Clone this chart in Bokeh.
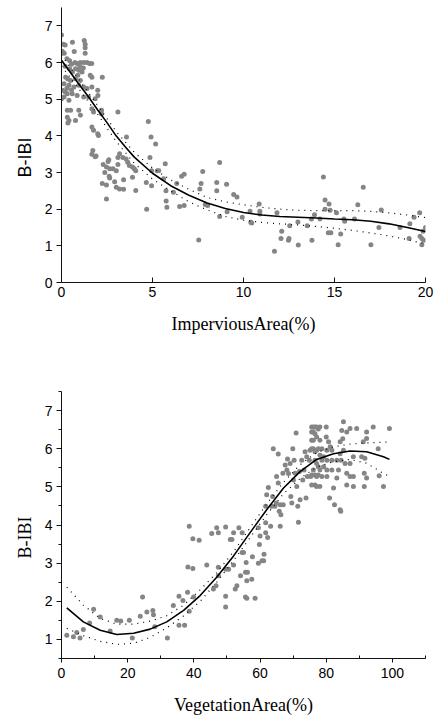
from bokeh.plotting import figure
from bokeh.layouts import column
from bokeh.models import Range1d, FixedTicker, Title
from bokeh.embed import file_html
from bokeh.resources import INLINE

# ---------------- data: top panel (Impervious area) ----------------
imp_x = [0.0, 0.1, 0.2, 0.05, 0.15, 0.6, 0.7, 1.25, 1.3, 1.3, 1.3,
         0.74, 0.86, 1.04, 1.22, 1.4, 1.54, 1.66, 0.3, 0.45, 0.55, 0.2,
         0.45, 0.6, 0.77, 0.95, 1.13, 1.0, 1.2,
         0.23, 0.5, 0.77, 1.04, 1.58, 1.67, 0.35, 0.9,
         0.14, 0.41, 0.68, 0.95, 1.22, 1.4, 1.67, 1.99, 0.3, 0.55,
         0.05, 0.32, 0.59, 0.86, 1.22, 1.49, 1.85, 2.0, 0.2,
         0.0, 0.14, 0.41,
         0.32, 0.5, 0.95, 1.67, 1.76, 2.2, 2.2,
         0.32, 0.41, 0.77, 1.04, 0.35,
         1.67, 1.76, 1.99, 2.03, 2.24, 3.1,
         1.72, 1.67, 1.9, 1.85,
         2.24, 2.47, 2.47,
         2.29, 2.47, 2.56, 2.65, 2.38, 2.6, 2.62, 2.65,
         2.83, 3.01, 3.1, 2.92, 3.01, 3.19,
         3.1, 3.19, 3.37, 3.55, 3.64, 3.73, 3.9, 4.0, 4.08,
         3.57, 3.41, 3.41, 3.9, 4.08,
         4.77, 4.92, 5.17, 4.86, 4.95, 5.26, 5.35, 4.66, 4.95, 4.68,
         5.7, 5.61, 5.74, 5.75, 5.79, 6.15, 6.33, 6.6, 6.74, 6.49, 6.74,
         7.54, 7.6, 7.67, 7.76, 7.9, 8.03,
         8.53, 8.53, 8.69, 8.69, 9.07, 9.1, 9.46, 9.64, 9.93,
         10.36, 10.4, 10.45, 10.86, 10.9, 10.9,
         11.7, 11.84, 12.1, 12.06, 12.47, 12.5, 12.54, 12.99, 13.01, 13.5,
         13.73, 13.76, 13.9, 14.2,
         14.39, 14.48, 14.48, 14.66, 14.8, 14.7, 14.76, 15.11, 15.2, 15.34,
         15.52, 15.56,
         16.1, 16.28, 16.58, 17.0, 17.44, 17.57,
         18.6, 19.14, 19.1, 19.37, 19.68, 19.7, 19.8, 19.87, 19.9, 19.8, 20.0]
imp_y = [6.75, 6.5, 6.48, 6.3, 6.25, 6.55, 6.3, 6.6, 6.5, 6.4, 6.25,
         6.0, 5.97, 6.0, 6.0, 6.0, 5.97, 5.97, 6.1, 6.05, 5.95, 5.9,
         5.83, 5.74, 5.83, 5.79, 5.74, 5.9, 5.85,
         5.6, 5.51, 5.56, 5.51, 5.65, 5.6, 5.55, 5.65,
         5.42, 5.38, 5.33, 5.38, 5.33, 5.29, 5.33, 5.24, 5.3, 5.25,
         5.24, 5.15, 5.15, 5.1, 5.06, 5.06, 5.01, 5.1, 5.2,
         5.01, 5.06, 4.97,
         4.7, 4.7, 4.7, 4.74, 4.65, 4.7, 4.6,
         4.51, 4.42, 4.42, 4.56, 4.35,
         4.24, 4.15, 4.06, 4.01, 5.6, 4.65,
         3.6, 3.5, 3.45, 3.43,
         2.7, 2.66, 2.28,
         3.22, 3.15, 3.3, 3.1, 3.0, 3.35, 2.9, 2.85,
         3.1, 3.05, 3.22, 2.75, 2.6, 2.55,
         3.41, 3.51, 3.41, 3.37, 3.28, 3.19, 3.15, 3.1, 3.05,
         3.97, 2.8, 2.54, 2.87, 2.51,
         4.39, 3.97, 3.78, 3.41, 3.05, 3.05, 3.05, 2.73, 2.64, 2.0,
         3.24, 2.83, 2.5, 2.22, 2.05, 2.46, 2.7, 2.9, 2.95, 2.07, 2.1,
         1.16, 2.55, 2.7, 3.03, 2.13, 2.1,
         2.73, 2.5, 3.27, 1.8, 2.68, 1.93, 2.4, 2.33, 1.78,
         1.94, 1.64, 1.62, 2.14, 1.94, 1.87,
         0.85, 1.9, 1.4, 1.2, 1.15, 1.2, 1.55, 1.65, 1.02, 1.55,
         1.73, 1.15, 1.85, 1.73,
         2.88, 2.25, 2.0, 1.36, 1.36, 2.14, 1.97, 1.9, 1.03, 1.32,
         1.73, 1.67,
         1.73, 2.12, 2.6, 1.03, 1.5, 1.98,
         1.5, 1.6, 1.2, 1.78, 1.9, 1.26, 1.2, 1.4, 1.15, 1.03, 1.5]

imp_fit_x = [0, 0.5, 1, 1.5, 2, 2.5, 3, 3.5, 4, 5, 6, 7, 8, 9, 10, 11, 12,
             13, 14, 15, 16, 17, 18, 19, 20]
imp_fit_y = [6.06, 5.72, 5.38, 5.05, 4.7, 4.36, 4.0, 3.7, 3.42, 2.98, 2.64,
             2.38, 2.17, 2.02, 1.91, 1.84, 1.8, 1.78, 1.76, 1.73, 1.71, 1.67,
             1.6, 1.5, 1.39]
imp_band_x = [0, 1, 2, 3, 4, 5, 6, 7, 8, 9, 10, 11, 12, 13, 14, 15, 16, 17, 18, 19, 20]
imp_up_y = [6.2, 5.5, 4.82, 4.12, 3.55, 3.12, 2.8, 2.54, 2.32, 2.2, 2.12,
            2.05, 2.0, 1.97, 1.96, 1.96, 1.96, 1.94, 1.9, 1.84, 1.77]
imp_lo_y = [5.9, 5.25, 4.58, 3.85, 3.25, 2.82, 2.5, 2.2, 1.98, 1.8, 1.7,
            1.64, 1.6, 1.57, 1.53, 1.48, 1.42, 1.35, 1.27, 1.17, 1.05]

imp_xticks = [0, 5, 10, 15, 20]
imp_yticks = [0, 1, 2, 3, 4, 5, 6, 7]

# ---------------- data: bottom panel (Vegetation area) ----------------
veg_x = [1.6, 3.6, 4.6, 5.6, 6.6, 8.5, 9.7, 11.7, 14.7, 16.7, 17.9, 20.5,
         21.4, 23.8, 24.5, 25.8, 27.6, 27.8, 28.2, 32.0, 33.8, 35.5, 35.5,
         37.2, 36.7, 38.1, 38.2, 38.6, 38.6, 39.7, 39.7, 39.9, 41.6, 43.9,
         45.4, 45.9, 46.7, 46.9, 47.4, 47.4, 47.4, 49.6, 49.6, 49.6, 49.6,
         50.5, 51.0, 51.5, 52.0, 52.0, 52.5, 53.0, 53.6, 54.1, 54.6, 54.6,
         55.0, 55.6, 55.6, 55.8, 56.0, 56.0, 56.2, 57.5, 57.7, 58.5, 59.5,
         59.5, 59.8, 60.0, 60.6, 61.1, 61.2, 61.7, 61.7, 61.7, 62.0, 62.3,
         62.5, 63.2, 63.5, 63.8, 64.0, 64.5, 64.9, 65.0, 65.5, 65.5, 65.8,
         66.1, 66.1, 66.3, 66.9, 67.0, 67.6, 68.1, 68.3, 68.6, 69.1, 69.3,
         69.6, 69.9, 70.1, 70.3, 70.6, 70.9, 71.1, 71.4, 71.6, 71.9, 72.1,
         72.6, 72.9, 73.3, 73.6, 73.9, 74.1, 74.3, 74.9, 75.1, 75.3,
         75.6, 75.6, 75.6, 75.6, 75.6, 75.6,
         76.1, 76.1, 76.1, 76.1, 76.1,
         76.6, 76.6, 76.6, 76.6, 76.6, 76.6,
         77.1, 77.1, 77.1, 77.1, 77.1, 77.1,
         77.6, 77.6, 77.6, 77.6,
         78.1, 78.1, 78.1, 78.1, 78.1,
         78.7, 78.7, 78.7, 79.2, 79.2, 80.0, 80.0,
         80.2, 80.2, 80.2, 80.2, 80.7, 81.0, 81.2, 81.7, 81.7, 81.7,
         82.2, 82.5, 83.2, 83.7, 83.2, 84.2, 84.4, 84.2, 84.2, 84.5,
         84.7, 85.2, 85.0, 85.2, 85.7, 86.2, 86.2, 86.2, 87.2, 87.2,
         87.2, 88.2, 88.2, 88.2, 89.2, 90.7, 91.2, 91.5, 91.5, 91.7,
         92.2, 92.2, 92.2, 94.2, 95.7, 96.0, 97.3, 99.1]
veg_y = [1.11, 1.07, 1.18, 1.04, 1.26, 1.43, 1.79, 1.59, 1.22, 1.5, 1.48, 1.5,
         1.04, 1.61, 2.11, 1.72, 1.76, 1.65, 1.33, 1.04, 1.89, 2.13, 1.37,
         1.37, 2.02, 2.24, 2.9, 3.97, 1.74, 2.86, 3.64, 2.11, 3.6, 2.95,
         3.78, 2.32, 2.41, 3.93, 3.8, 2.67, 2.89, 3.95, 2.13, 1.85, 2.84,
         2.84, 3.62, 3.62, 3.8, 2.95, 2.32, 2.41, 3.93, 2.67, 3.8, 3.28,
         3.28, 2.76, 2.11, 3.02, 2.54, 2.08, 2.76, 2.58, 3.17, 2.08, 3.93,
         3.0, 3.49, 3.71, 3.06, 3.06, 3.23, 3.8, 4.49, 4.06, 4.79, 3.67,
         4.98, 3.97, 4.49, 4.75, 6.0, 4.49, 4.58, 5.27, 5.86, 5.1, 4.36,
         4.53, 3.97, 4.27, 5.36, 4.53, 5.57, 5.44, 5.73, 5.35, 5.61, 4.75,
         4.58, 6.0, 5.18, 5.7, 5.36, 6.41, 5.01, 4.49, 4.07, 5.4, 4.66,
         5.7, 5.18, 5.44, 5.92, 4.71, 5.79, 5.27, 5.7, 5.96, 5.27,
         6.57, 6.44, 6.22, 6.0, 5.31, 5.05,
         6.57, 6.44, 6.22, 6.0, 5.44,
         6.57, 6.39, 5.92, 5.7, 5.31, 5.05,
         6.57, 6.31, 5.96, 5.61, 5.27, 5.01,
         6.52, 6.0, 5.53, 5.31,
         6.57, 6.22, 5.83, 5.44, 5.01,
         6.0, 5.7, 5.27, 5.79, 5.53, 6.57, 6.31,
         5.96, 5.7, 5.44, 5.27, 6.18, 4.71, 6.05, 5.96, 5.7, 5.44,
         4.97, 4.53, 5.7, 5.44, 5.23, 4.4, 4.36, 6.18, 5.87, 5.7,
         6.48, 6.71, 6.26, 5.96, 5.61, 5.36, 6.44, 5.05, 5.27, 5.61,
         6.53, 5.79, 5.27, 5.01, 6.53, 5.79, 6.18, 5.36, 5.01, 5.75,
         6.44, 6.27, 5.23, 6.57, 6.0, 5.29, 5.01, 6.53]

veg_fit_x = [1.6, 6.6, 11.7, 16.7, 21.8, 26.8, 31.8, 36.9, 41.9, 46.9, 52.0,
             57.0, 62.0, 67.1, 72.1, 77.1, 82.2, 87.2, 92.2, 97.3, 99.1]
veg_fit_y = [1.83, 1.46, 1.24, 1.13, 1.16, 1.27, 1.46, 1.76, 2.15, 2.63, 3.19,
             3.8, 4.4, 4.97, 5.4, 5.72, 5.87, 5.94, 5.92, 5.79, 5.72]
veg_up_y = [2.37, 1.9, 1.55, 1.4, 1.4, 1.48, 1.62, 1.9, 2.3, 2.75, 3.3,
            3.93, 4.55, 5.12, 5.58, 5.9, 6.05, 6.12, 6.15, 6.17, 6.18]
veg_lo_y = [1.29, 1.1, 0.95, 0.87, 0.9, 1.05, 1.3, 1.62, 2.0, 2.5, 3.07,
            3.67, 4.27, 4.82, 5.22, 5.52, 5.66, 5.72, 5.62, 5.35, 5.28]

veg_xticks = [0, 20, 40, 60, 80, 100]
veg_xminor = [10, 30, 50, 70, 90, 110]
veg_yticks = [1, 2, 3, 4, 5, 6, 7]
veg_yminor = [0.5, 1.5, 2.5, 3.5, 4.5, 5.5, 6.5, 7.5]

# ---------------- styling ----------------
PT = "#858585"
SANS = "Liberation Sans"
SERIF = "Liberation Serif"


def style_axes(p):
    p.outline_line_color = None
    p.xgrid.visible = False
    p.ygrid.visible = False
    for ax in (p.xaxis[0], p.yaxis[0]):
        ax.axis_line_color = "#111111"
        ax.axis_line_width = 1
        ax.major_tick_line_color = "#111111"
        ax.minor_tick_line_color = "#111111"
        ax.major_label_text_font = SANS
        ax.major_label_text_font_size = "14px"
        ax.major_label_text_color = "#000000"
        ax.axis_label_text_font = SERIF
        ax.axis_label_text_font_size = "18px"
        ax.axis_label_text_font_style = "normal"
        ax.axis_label_text_color = "#000000"


def ylabel(text, font, offset):
    return Title(text=text, align="left", offset=offset, vertical_align="middle",
                 text_font=font, text_font_size="18px", text_font_style="normal",
                 text_color="black", standoff=12)


# ---------------- top figure ----------------
p1 = figure(width=443, height=340, output_backend="svg", toolbar_location=None,
            x_range=Range1d(0, 20), y_range=Range1d(0, 7.5),
            min_border_left=57, min_border_right=14, min_border_top=7,
            min_border_bottom=58)
style_axes(p1)
p1.xaxis.ticker = FixedTicker(ticks=imp_xticks, minor_ticks=[])
p1.yaxis.ticker = FixedTicker(ticks=imp_yticks, minor_ticks=[])
p1.xaxis.major_tick_in = 5
p1.xaxis.major_tick_out = 0
p1.xaxis.major_label_standoff = 4
p1.yaxis.major_tick_in = 0
p1.yaxis.major_tick_out = 5
p1.yaxis.major_label_standoff = 4
p1.xaxis.axis_label = "ImperviousArea(%)"
p1.xaxis.axis_label_standoff = 14
p1.add_layout(ylabel("B-IBI", SANS, 105), "left")

p1.scatter(imp_x, imp_y, size=5, color=PT, line_color=None)
p1.line(imp_band_x, imp_up_y, line_color="black", line_width=1.2, line_dash="1 5")
p1.line(imp_band_x, imp_lo_y, line_color="black", line_width=1.2, line_dash="1 5")
p1.line(imp_fit_x, imp_fit_y, line_color="black", line_width=1.6)

# ---------------- bottom figure ----------------
p2 = figure(width=443, height=377, output_backend="svg", toolbar_location=None,
            x_range=Range1d(0, 110), y_range=Range1d(0.5, 7.5),
            min_border_left=61, min_border_right=18, min_border_top=51,
            min_border_bottom=57)
style_axes(p2)
p2.xaxis.ticker = FixedTicker(ticks=veg_xticks, minor_ticks=veg_xminor)
p2.yaxis.ticker = FixedTicker(ticks=veg_yticks, minor_ticks=veg_yminor)
p2.xaxis.major_tick_in = 0
p2.xaxis.major_tick_out = 4
p2.xaxis.minor_tick_in = 3
p2.xaxis.minor_tick_out = 0
p2.xaxis.major_label_standoff = 5
p2.yaxis.major_tick_in = 0
p2.yaxis.major_tick_out = 5
p2.yaxis.minor_tick_in = 0
p2.yaxis.minor_tick_out = 3
p2.yaxis.major_label_standoff = 4
p2.xaxis.axis_label = "VegetationArea(%)"
p2.xaxis.axis_label_standoff = 14
p2.add_layout(ylabel("B-IBI", SERIF, 100), "left")

p2.scatter(veg_x, veg_y, size=5, color=PT, line_color=None)
p2.line(veg_fit_x, veg_up_y, line_color="black", line_width=1.2, line_dash="1 5")
p2.line(veg_fit_x, veg_lo_y, line_color="black", line_width=1.2, line_dash="1 5")
p2.line(veg_fit_x, veg_fit_y, line_color="black", line_width=1.6)

layout = column(p1, p2)
open("out.html", "w").write(file_html(layout, INLINE))
